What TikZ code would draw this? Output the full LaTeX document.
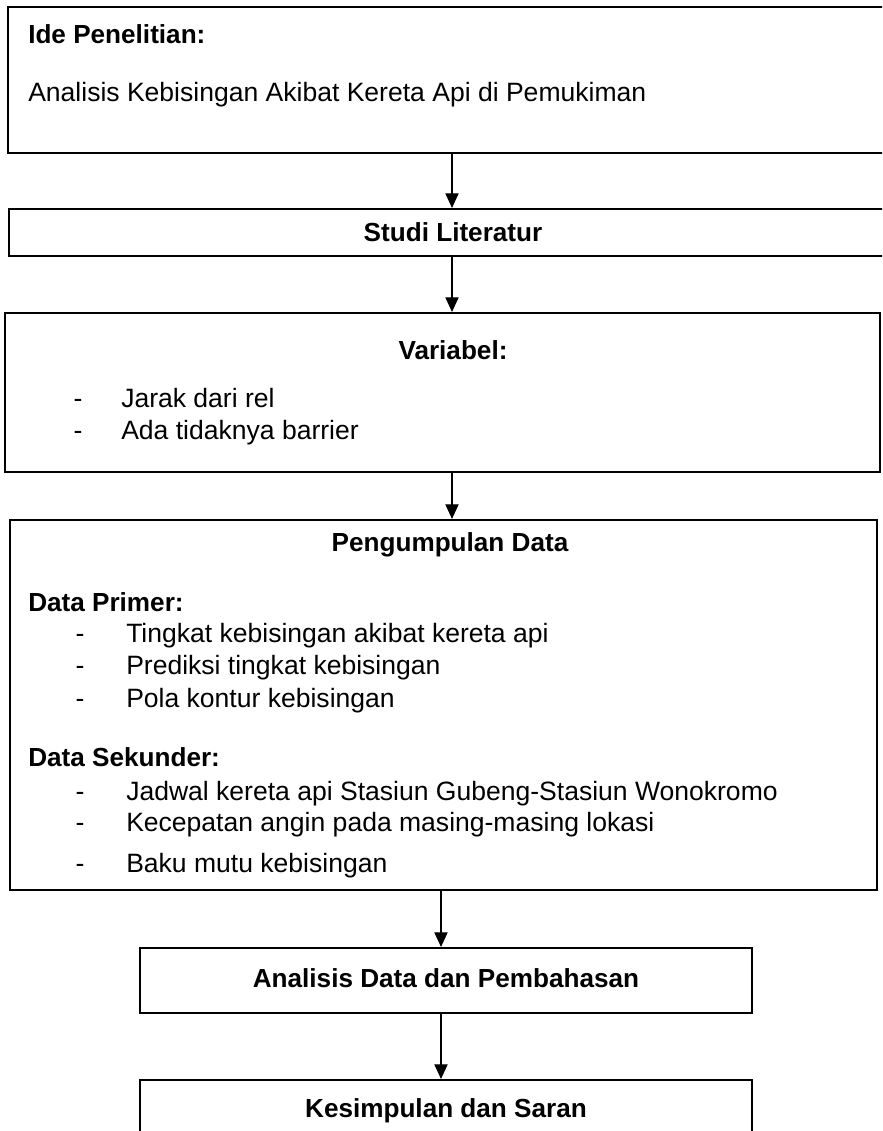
\documentclass[tikz,border=0pt]{standalone}
\usepackage{fontspec}
\setmainfont{Liberation Sans}
\usetikzlibrary{arrows.meta,positioning}

\tikzset{
	kotak/.style={draw=black, line width=1.6pt, inner sep=0pt},
	judul/.style={font=\fontsize{19.6}{23}\selectfont\bfseries, inner sep=0pt},
	isi/.style={font=\fontsize{19.9}{23}\selectfont, inner sep=0pt},
	panah/.style={line width=0.8pt, -{Triangle[width=10pt,length=11pt]}}
}

\begin{document}
\begin{tikzpicture}[x=0.75pt,y=-0.75pt]

\clip (0,0) rectangle (882,1131);

% garis bantu untuk panah
\coordinate (jalur) at (452,0);
\coordinate (jalurb) at (441,0);

% kotak-kotak
\node[kotak, minimum width=669pt, minimum height=109.5pt] (ide) at (454,80) {};
\node[kotak, minimum width=668.25pt, minimum height=35.25pt] (studi) at (454.5,232.5) {};
\node[kotak, minimum width=656.25pt, minimum height=119.25pt] (variabel) at (442.5,392.5) {};
\node[kotak, minimum width=650.25pt, minimum height=277.5pt] (kumpul) at (443.5,705) {};
\node[kotak, minimum width=459pt, minimum height=48.75pt] (analisis) at (446,980.5) {};
\node[kotak, minimum width=459pt, minimum height=60pt] (simpul) at (446,1120) {};

% teks ide penelitian
\node[judul, anchor=base west] (tide) at (28,44) {Ide Penelitian:};
\node[isi, anchor=base west] (tjudul) at (28,101) {Analisis Kebisingan Akibat Kereta Api di Pemukiman};

% teks studi literatur
\node[judul, anchor=base] (tstudi) at (453,241) {Studi Literatur};

% teks variabel
\node[judul, anchor=base] (tvar) at (453,359) {Variabel:};
\node[isi, anchor=base] (s1) at (78,407) {-};
\node[isi, anchor=base west] (v1) at (121,407) {Jarak dari rel};
\node[isi, anchor=base] (s2) at (78,439) {-};
\node[isi, anchor=base west] (v2) at (121,439) {Ada tidaknya barrier};

% teks pengumpulan data
\node[judul, anchor=base] (tkumpul) at (450,551) {Pengumpulan Data};
\node[judul, anchor=base west] (tprimer) at (28,611) {Data Primer:};
\node[isi, anchor=base] (s3) at (80,642) {-};
\node[isi, anchor=base west] (p1) at (126,642) {Tingkat kebisingan akibat kereta api};
\node[isi, anchor=base] (s4) at (80,674) {-};
\node[isi, anchor=base west] (p2) at (126,674) {Prediksi tingkat kebisingan};
\node[isi, anchor=base] (s5) at (80,707) {-};
\node[isi, anchor=base west] (p3) at (126,707) {Pola kontur kebisingan};
\node[judul, anchor=base west] (tsekunder) at (28,766) {Data Sekunder:};
\node[isi, anchor=base] (s6) at (80,800) {-};
\node[isi, anchor=base west] (k1) at (126,800) {Jadwal kereta api Stasiun Gubeng-Stasiun Wonokromo};
\node[isi, anchor=base] (s7) at (80,831) {-};
\node[isi, anchor=base west] (k2) at (126,831) {Kecepatan angin pada masing-masing lokasi};
\node[isi, anchor=base] (s8) at (80,872) {-};
\node[isi, anchor=base west] (k3) at (126,872) {Baku mutu kebisingan};

% teks analisis dan kesimpulan
\node[judul, anchor=base] (tanalisis) at (446,987) {Analisis Data dan Pembahasan};
\node[judul, anchor=base] (tsimpul) at (446,1117) {Kesimpulan dan Saran};

% panah-panah
\draw[panah] (ide.south -| jalur) -- (studi.north -| jalur);
\draw[panah] (studi.south -| jalur) -- (variabel.north -| jalur);
\draw[panah] (variabel.south -| jalur) -- (kumpul.north -| jalur);
\draw[panah] (kumpul.south -| jalurb) -- (analisis.north -| jalurb);
\draw[panah] (analisis.south -| jalurb) -- (simpul.north -| jalurb);

\end{tikzpicture}
\end{document}
